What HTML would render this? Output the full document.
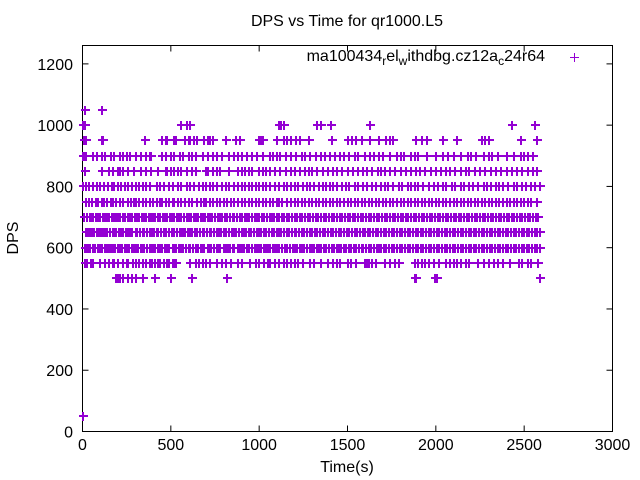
<!DOCTYPE html>
<html><head><meta charset="utf-8"><style>
html,body{margin:0;padding:0;background:#fff;}
svg{display:block;font-family:"Liberation Sans",sans-serif;}
</style></head><body>
<svg id="chart" width="640" height="480">
<text x="347" y="26" text-anchor="middle" font-size="16">DPS vs Time for qr1000.L5</text>
<rect x="82.5" y="45.5" width="530" height="386" fill="none" stroke="#000" stroke-width="1"/>
<g id="axes"></g>
<g id="points"></g>
<text x="545" y="61" text-anchor="end" font-size="16">ma100434<tspan dy="4" font-size="12">r</tspan><tspan dy="-4">el</tspan><tspan dy="4" font-size="12">w</tspan><tspan dy="-4">ithdbg.cz12a</tspan><tspan dy="4" font-size="12">c</tspan><tspan dy="-4">24r64</tspan></text>
<g><line x1="570" y1="57.5" x2="579" y2="57.5" stroke="#9400d3"/><line x1="574.5" y1="53" x2="574.5" y2="62" stroke="#9400d3"/></g>
<text x="347" y="472" text-anchor="middle" font-size="16">Time(s)</text>
<text x="18" y="238" text-anchor="middle" font-size="16" transform="rotate(-90 18 238)">DPS</text>
</svg>
<script>
const xTicks=[0,500,1000,1500,2000,2500,3000];
const yTicks=[0,200,400,600,800,1000,1200];
const levels=[50,500,550,600,650,700,750,800,850,900,950,1000,1050];
const t50=[2];
const t500=[190,200,215,230,260,280,300,340,410,500,620,817,1880,1890,1995,2005,2590];
const t550=[15,25,50,60,100,130,150,170,180,200,230,250,260,285,300,320,340,360,380,395,410,430,440,460,480,490,510,520,530,610,640,660,680,700,720,760,790,810,840,880,905,950,980,1000,1030,1050,1060,1090,1110,1140,1160,1180,1200,1220,1250,1290,1310,1350,1390,1420,1440,1460,1500,1520,1550,1600,1610,1620,1640,1660,1710,1740,1770,1790,1880,1900,1920,1940,1960,1990,2020,2060,2080,2100,2120,2140,2170,2190,2240,2270,2300,2330,2350,2380,2420,2470,2490,2520,2540,2580];
const t600=[15,25,35,45,60,70,85,100,110,125,140,150,160,170,185,200,210,225,240,250,265,280,290,300,315,330,340,350,365,380,390,400,410,425,440,450,465,480,490,510,520,530,545,560,570,585,600,610,625,640,655,670,680,690,710,720,730,745,760,770,780,800,810,825,835,850,860,880,890,900,915,930,945,960,975,990,1000,1010,1025,1040,1050,1060,1080,1090,1100,1115,1130,1145,1160,1175,1190,1200,1215,1230,1240,1255,1270,1285,1300,1310,1325,1340,1350,1365,1380,1395,1410,1425,1440,1450,1465,1480,1490,1510,1520,1535,1550,1565,1580,1590,1605,1620,1635,1650,1665,1680,1690,1705,1720,1735,1750,1765,1780,1795,1810,1825,1840,1855,1870,1885,1900,1915,1930,1945,1960,1975,1990,2005,2020,2035,2050,2065,2080,2095,2110,2125,2140,2155,2170,2185,2200,2215,2230,2245,2260,2275,2290,2305,2320,2335,2350,2365,2380,2395,2410,2425,2440,2455,2470,2485,2500,2515,2530,2545,2560,2575,2590];
const t650=[20,30,45,55,65,80,95,105,115,130,140,155,170,180,190,205,220,230,245,260,270,280,300,310,325,340,350,365,380,395,405,420,430,445,460,475,490,505,520,535,550,560,570,580,595,610,620,635,650,665,680,690,705,720,730,745,760,770,785,800,815,830,845,855,870,885,900,915,925,940,955,970,985,1000,1010,1025,1040,1055,1070,1085,1100,1110,1125,1140,1155,1170,1185,1200,1210,1225,1240,1255,1270,1285,1300,1315,1330,1345,1360,1375,1390,1405,1420,1435,1450,1465,1480,1495,1510,1525,1540,1555,1570,1585,1600,1615,1630,1645,1660,1675,1690,1705,1720,1735,1750,1765,1780,1795,1810,1825,1840,1855,1870,1885,1900,1915,1930,1945,1960,1975,1990,2005,2020,2035,2050,2065,2080,2095,2110,2125,2140,2155,2170,2185,2200,2215,2230,2245,2260,2275,2290,2305,2320,2335,2350,2365,2380,2395,2410,2425,2440,2455,2470,2485,2500,2515,2530,2545,2560,2575,2590];
const t700=[10,25,40,50,60,75,90,100,115,125,140,150,165,180,190,200,215,230,240,255,270,280,295,310,320,335,350,360,375,390,400,410,425,440,455,465,480,495,505,520,535,545,560,575,590,600,615,630,640,655,670,680,695,710,720,735,750,765,780,790,805,820,835,850,860,875,890,905,920,930,945,960,975,990,1000,1015,1030,1045,1060,1070,1085,1100,1115,1130,1140,1155,1170,1185,1200,1215,1230,1245,1260,1275,1290,1305,1320,1335,1350,1365,1380,1395,1410,1425,1440,1455,1470,1485,1500,1515,1530,1545,1560,1575,1590,1605,1620,1635,1650,1665,1680,1695,1710,1725,1740,1755,1770,1785,1800,1815,1830,1845,1860,1875,1890,1905,1920,1935,1950,1965,1980,1995,2010,2025,2040,2055,2070,2085,2100,2115,2130,2145,2160,2175,2190,2205,2220,2235,2250,2265,2280,2295,2310,2325,2340,2355,2370,2385,2400,2415,2430,2445,2460,2475,2490,2505,2520,2535,2550,2565,2580];
const t750=[20,35,55,75,90,110,120,140,160,170,190,210,230,260,275,290,305,320,340,360,380,400,420,440,450,470,490,510,520,540,560,580,600,620,650,670,690,700,720,740,760,780,800,820,840,860,880,900,920,940,960,980,1000,1020,1040,1060,1080,1100,1110,1130,1160,1180,1200,1220,1240,1260,1280,1300,1320,1340,1360,1380,1400,1420,1440,1460,1480,1500,1520,1540,1560,1580,1600,1620,1640,1660,1680,1700,1720,1740,1760,1780,1800,1820,1840,1860,1880,1900,1920,1940,1960,1980,2000,2020,2040,2060,2080,2100,2120,2140,2160,2180,2200,2220,2240,2260,2280,2300,2320,2340,2360,2380,2400,2420,2440,2460,2480,2500,2520,2540,2570];
const t800=[5,20,35,60,80,100,120,145,165,180,200,220,240,260,280,300,320,340,360,380,420,440,460,490,510,540,560,590,610,630,660,680,700,720,740,760,790,810,830,860,880,900,920,940,960,980,1000,1020,1040,1060,1090,1110,1140,1160,1180,1200,1220,1250,1270,1290,1310,1340,1360,1380,1400,1420,1440,1470,1490,1510,1540,1560,1590,1610,1640,1660,1690,1710,1730,1760,1790,1810,1840,1860,1880,1900,1930,1960,1990,2010,2040,2060,2090,2110,2140,2160,2190,2210,2240,2270,2290,2310,2340,2360,2380,2410,2440,2460,2490,2510,2540,2560,2590];
const t850=[15,110,150,170,200,215,230,260,290,330,360,390,430,470,480,500,520,540,560,590,620,640,700,710,740,760,780,830,880,900,920,940,960,1000,1020,1040,1060,1090,1120,1150,1180,1200,1230,1260,1280,1300,1330,1360,1390,1420,1440,1470,1500,1530,1560,1590,1610,1640,1670,1690,1710,1740,1770,1800,1830,1860,1890,1910,1940,1970,2000,2030,2060,2080,2110,2140,2170,2190,2220,2250,2280,2310,2340,2370,2400,2430,2460,2490,2520,2550,2570];
const t900=[5,15,20,60,80,110,130,160,180,210,230,250,270,300,330,360,380,390,450,470,500,520,550,570,600,620,640,680,710,740,760,790,830,860,880,900,930,960,990,1020,1060,1080,1100,1120,1150,1180,1210,1240,1260,1290,1320,1350,1370,1400,1430,1460,1480,1510,1540,1560,1600,1630,1650,1680,1700,1740,1780,1800,1820,1860,1880,1900,1950,2000,2040,2070,2100,2140,2180,2200,2230,2270,2300,2320,2350,2400,2440,2480,2500,2520,2550];
const t950=[10,20,110,115,355,450,470,480,520,530,580,600,610,630,650,690,710,720,740,810,870,890,1000,1010,1020,1100,1140,1160,1180,1210,1230,1280,1410,1500,1525,1550,1580,1630,1680,1720,1740,1760,1890,1920,1950,2040,2120,2260,2280,2300,2480,2570];
const t1000=[5,15,555,590,610,1110,1125,1140,1330,1350,1405,1630,2430,2560];
const t1050=[15,110];
const seriesTimes=[t50,t500,t550,t600,t650,t700,t750,t800,t850,t900,t950,t1000,t1050];

const X0=82.5,X1=612.5,Y0=431.5,Y1=45.5,XMAX=3000,YMAX=1260;
function xs(v){return X0+(v/XMAX)*(X1-X0);}
function ys(v){return Y0-(v/YMAX)*(Y0-Y1);}
const NS="http://www.w3.org/2000/svg";
const axes=document.getElementById('axes');
function mk(tag,attrs,parent){const e=document.createElementNS(NS,tag);for(const k in attrs)e.setAttribute(k,attrs[k]);parent.appendChild(e);return e;}
xTicks.forEach(v=>{
  const x=xs(v);
  const t=mk('line',{x1:x,y1:Y0,x2:x,y2:Y0-6,stroke:'#000'},axes);
  
  
  const t2=mk('line',{x1:x,y1:Y1,x2:x,y2:Y1+6,stroke:'#000'},axes);
  
  
  const l=mk('text',{x:x,y:450,'text-anchor':'middle','font-size':16},axes);
  l.textContent=v;
  
  
});
yTicks.forEach(v=>{
  const y=ys(v);
  const t=mk('line',{x1:X0,y1:y,x2:X0+6,y2:y,stroke:'#000'},axes);
  
  
  const t2=mk('line',{x1:X1,y1:y,x2:X1-6,y2:y,stroke:'#000'},axes);
  
  
  const l=mk('text',{x:73,y:y+6,'text-anchor':'end','font-size':16},axes);
  l.textContent=v;
  
  
});
const pts=document.getElementById('points');
let d='';
levels.forEach((lv,i)=>{
  const y=Math.round(ys(lv));
  seriesTimes[i].forEach(t=>{
    const x=Math.round(xs(t));
    d+='M'+(x-4)+' '+y+'h9M'+x+' '+(y-4)+'v9';
  });
});
const p=mk('path',{d:d,stroke:'#9400d3','stroke-width':2,fill:'none'},pts);


</script>
</body></html>
